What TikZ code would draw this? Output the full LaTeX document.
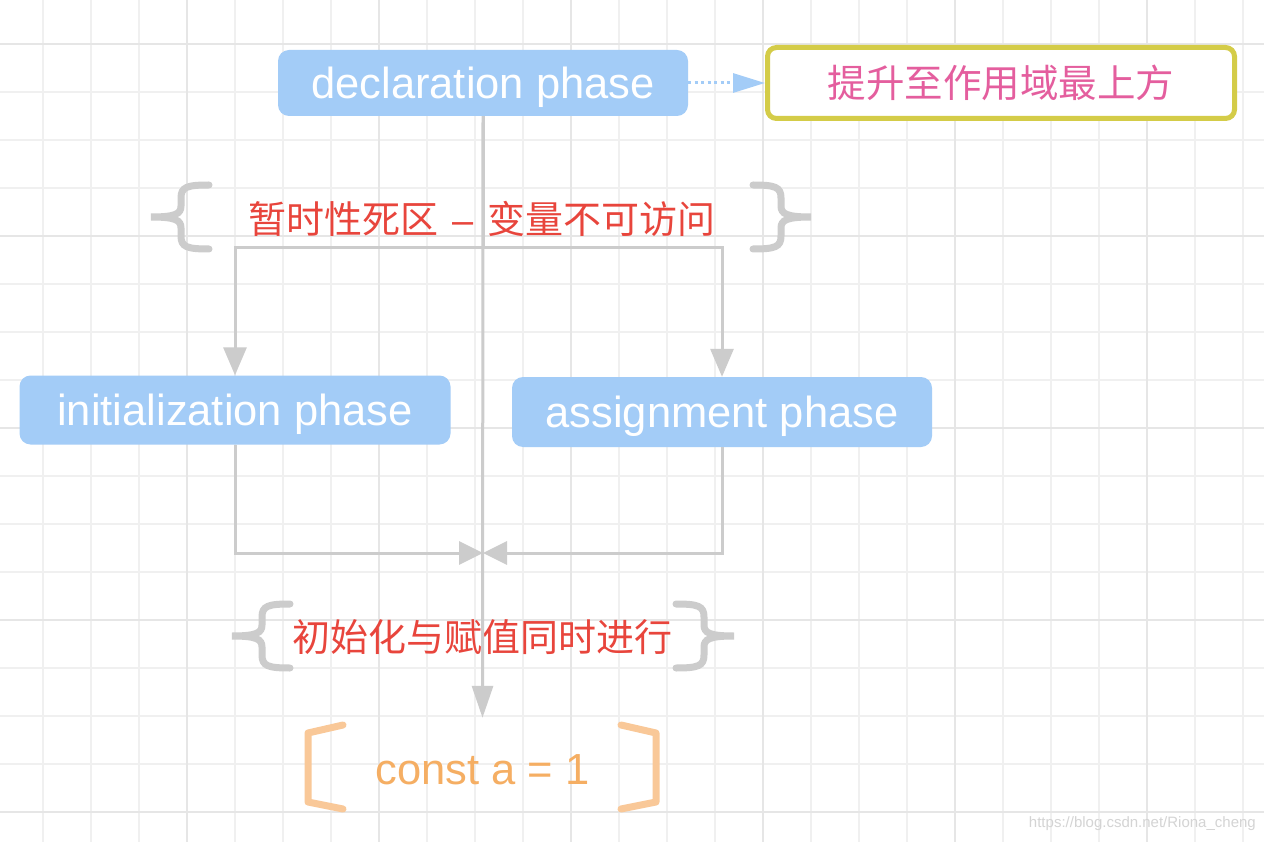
\documentclass[tikz,border=0pt]{standalone}
\usepackage{fontspec}
\setmainfont{Liberation Sans}
\newfontfamily\cjk{Noto Sans CJK SC}
\usetikzlibrary{arrows.meta}
\definecolor{boxblue}{HTML}{A3CCF7}
\definecolor{conngray}{HTML}{CCCCCC}
\definecolor{gridminor}{HTML}{F0F0F0}
\definecolor{gridmajor}{HTML}{E6E6E6}
\definecolor{zonered}{HTML}{E8453C}
\definecolor{hoistpink}{HTML}{E45E9E}
\definecolor{hoistborder}{HTML}{D4CC48}
\definecolor{constorange}{HTML}{F5AE63}
\definecolor{bracketorange}{HTML}{F9C898}
\definecolor{markgray}{HTML}{D4D4D4}
\tikzset{
  phasebox/.style={fill=boxblue, rounded corners=11pt, inner sep=0pt, text=white,
    font=\fontsize{43.5}{50}\selectfont, text height=31pt, text depth=0pt},
  conn/.style={draw=conngray, line width=3pt, -{Triangle[length=28pt,width=23pt]}},
  mergeconn/.style={draw=conngray, line width=3pt, -{Triangle[length=24pt,width=23pt]}},
  plainconn/.style={draw=conngray, line width=3pt},
  bracestyle/.style={draw=conngray, line width=7pt, line cap=round},
  bracketstyle/.style={draw=bracketorange, line width=7pt, line cap=round, line join=round},
  zonetext/.style={text=zonered, font=\cjk\fontsize{38}{46}\selectfont, inner sep=0pt},
  lbrace/.pic={\draw[bracestyle] (58,-32) .. controls (36,-32) and (30,-30) .. (30,-19) -- (30,-11)
     .. controls (30,-3) and (24,0) .. (0,0) .. controls (24,0) and (30,3) .. (30,11) -- (30,19)
     .. controls (30,30) and (36,32) .. (58,32);},
}
\begin{document}
\begin{tikzpicture}[x=1pt,y=-1pt]
\useasboundingbox (0,0) rectangle (1264,842);
\fill[white] (0,0) rectangle (1264,842);
% grid
\foreach \x in {43,91,...,1243} \draw[gridminor, line width=2pt] (\x,0) -- (\x,842);
\foreach \y in {44,92,...,812} \draw[gridminor, line width=2pt] (0,\y) -- (1264,\y);
\foreach \x in {187,379,...,1147} \draw[gridmajor, line width=2.5pt] (\x,0) -- (\x,842);
\foreach \y in {44,236,...,812} \draw[gridmajor, line width=2.5pt] (0,\y) -- (1264,\y);

% nodes
\node[phasebox, minimum width=410pt, minimum height=66pt] (decl) at (483,83) {declaration phase};
\node[draw=hoistborder, line width=5pt, rounded corners=9pt, fill=white, minimum width=467pt, minimum height=71pt,
  inner sep=0pt, text=hoistpink, font=\cjk\fontsize{38.5}{44}\selectfont] (hoist) at (1001,83) {提升至作用域最上方};
\node[phasebox, minimum width=431pt, minimum height=69pt] (init) at (235,410) {initialization phase};
\node[phasebox, minimum width=420pt, minimum height=70pt] (assign) at (722,412) {assignment phase};
\node[zonetext] (zone) at (482,219) {暂时性死区\hspace{14pt}{\rmfamily\fontsize{38}{46}\selectfont –}\hspace{14pt}变量不可访问};
\node[zonetext] (together) at (482,637) {初始化与赋值同时进行};
\node[minimum width=351pt, minimum height=86pt, inner sep=0pt, text=constorange,
  font=\fontsize{43.5}{50}\selectfont, text height=31pt, text depth=0pt] (const) at (482.5,769) {const a = 1};
\coordinate (split) at (483,248);
\coordinate (merge) at (483,553);

% connectors
\draw[draw=boxblue, line width=3pt, dash pattern=on 3pt off 3.5pt,
  -{Triangle[length=32pt,width=19pt,fill=boxblue]}] (decl.east) -- (hoist.west);
\draw[plainconn] (decl.south) -- (split);
\draw[conn] (split) -| (init.north);
\draw[conn] (split) -| (assign.north);
\draw[draw=conngray, line width=3pt, -{Triangle[length=32pt,width=21pt]}] (decl.south) -- ([yshift=8pt]const.north);
\draw[mergeconn] (init.south) |- (merge);
\draw[mergeconn] (assign.south) |- (merge);

% braces
\pic at (151,217) {lbrace};
\pic[xscale=-1] at (811,217) {lbrace};
\pic at (232,636) {lbrace};
\pic[xscale=-1] at (734,636) {lbrace};

% brackets
\draw[bracketstyle] (343,725) -- (308,733) -- (308,802) -- (343,809);
\draw[bracketstyle] (621,725) -- (656,733) -- (656,802) -- (621,809);

% watermark
\node[anchor=east, text=markgray, font=\fontsize{15}{18}\selectfont, inner sep=0pt] (mark) at (1256,824) {https://blog.csdn.net/Riona\_cheng};
\end{tikzpicture}
\end{document}
